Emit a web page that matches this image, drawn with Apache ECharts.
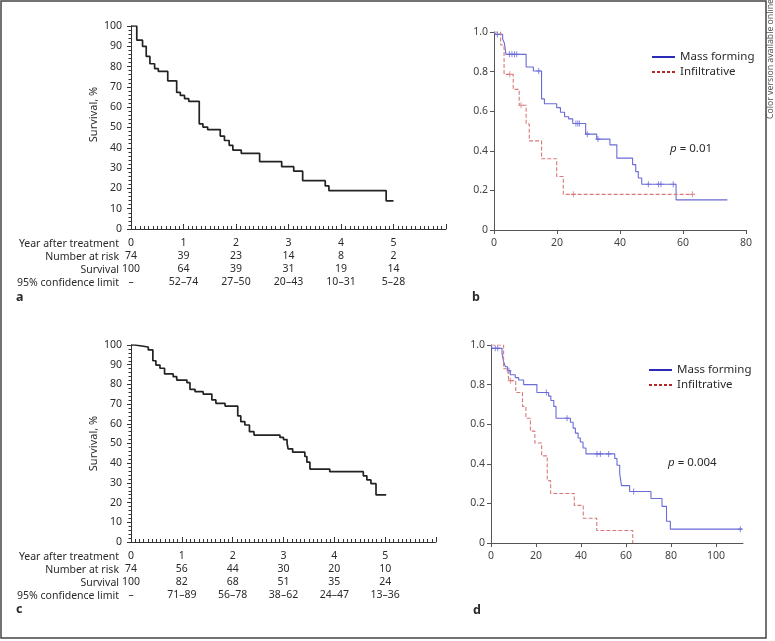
<!DOCTYPE html>
<html><head><meta charset="utf-8">
<script src="https://cdn.jsdelivr.net/npm/echarts@6/dist/echarts.min.js"></script>
<style>html,body{margin:0;padding:0;background:#fff}#c{width:775px;height:641px}</style>
</head><body><div id="c"></div>
<script>
// ---------- DATA ----------
// Panel a: overall survival (years, %), step changes
const kmA = [[0,100],[0.11,93],[0.22,90],[0.29,85],[0.36,81.4],[0.45,79],[0.52,77.6],[0.7,73],[0.87,67.3],[0.94,65.8],[1.02,64.2],[1.1,62.9],[1.3,51.8],[1.37,50.2],[1.46,49],[1.7,45.8],[1.78,43.6],[1.87,41.2],[1.94,38.9],[2.1,37.3],[2.45,33.2],[2.87,30.7],[3.1,28.5],[3.27,23.8],[3.7,21.2],[3.77,18.9],[4.86,13.9],[5.0,13.9]];
// Panel c: (years, %)
const kmC = [[0,100],[0.08,99],[0.34,97.5],[0.43,92],[0.49,89.8],[0.57,88.2],[0.66,85.3],[0.83,83.9],[0.9,82.2],[1.1,80.9],[1.16,77.5],[1.26,76.3],[1.42,75.1],[1.59,72.1],[1.67,70.4],[1.85,69],[2.1,64],[2.16,61.1],[2.24,59.4],[2.33,56],[2.42,54.3],[2.93,53.1],[3.0,52],[3.07,50.2],[3.09,47.3],[3.18,45.6],[3.42,43.4],[3.46,40.5],[3.52,37],[3.91,35.7],[4.57,33.6],[4.64,31.5],[4.72,29.6],[4.82,23.9],[5.02,23.9]];

// Risk tables
const yearLabels = ['0','1','2','3','4','5'];
const riskA = ['74','39','23','14','8','2'];
const survA = ['100','64','39','31','19','14'];
const ciA = ['–','52–74','27–50','20–43','10–31','5–28'];
const riskC = ['74','56','44','30','20','10'];
const survC = ['100','82','68','51','35','24'];
const ciC = ['–','71–89','56–78','38–62','24–47','13–36'];
const rowNames = ['Year after treatment','Number at risk','Survival','95% confidence limit'];

// Panel b (months, proportion)
const bMass = [[0,1],[0.4,0.988],[2.75,0.965],[3.3,0.944],[3.8,0.887],[10.2,0.823],[12.5,0.803],[15.1,0.662],[16.0,0.638],[19.9,0.618],[21.1,0.595],[22.4,0.572],[23.7,0.561],[25.0,0.538],[29.1,0.484],[32.6,0.459],[36.8,0.43],[39.0,0.363],[44.0,0.33],[45.0,0.295],[45.8,0.263],[46.9,0.231],[57.8,0.152],[74.1,0.152]];
const bMassCens = [[1.06,0.988],[4.9,0.887],[5.7,0.887],[6.5,0.887],[7.2,0.887],[14.2,0.803],[26.0,0.538],[26.6,0.538],[27.1,0.538],[29.6,0.484],[33.0,0.459],[49.0,0.231],[52.2,0.231],[53.0,0.231],[56.9,0.231]];
const bInf = [[0,1],[2.1,0.934],[3.2,0.786],[6.1,0.71],[8.0,0.63],[10.2,0.535],[11.2,0.45],[15.1,0.36],[19.9,0.27],[22.0,0.18],[63,0.18]];
const bInfCens = [[5.0,0.786],[8.6,0.63],[25.2,0.18],[63,0.18]];

// Panel d (months, proportion)
const dMass = [[0,1],[0.5,0.983],[4.9,0.958],[5.6,0.916],[6.4,0.89],[7.4,0.87],[8.6,0.85],[10.8,0.835],[12.3,0.823],[14.5,0.80],[20.4,0.76],[25.6,0.742],[26.6,0.72],[27.9,0.69],[28.9,0.63],[35.3,0.61],[36.5,0.58],[37.5,0.555],[38.7,0.53],[39.7,0.51],[40.9,0.48],[42.2,0.45],[55.0,0.427],[56.0,0.393],[57.2,0.35],[58.0,0.29],[61.6,0.26],[71.1,0.225],[76.0,0.185],[78.0,0.11],[79.7,0.07],[111.5,0.07]];
const dMassCens = [[1.9,0.983],[3.0,0.983],[8.0,0.87],[24.6,0.76],[33.8,0.63],[47.1,0.45],[48.6,0.45],[52.3,0.45],[63.4,0.26],[110.8,0.07]];
const dInf = [[0,1],[5.6,0.88],[7.6,0.85],[8.0,0.82],[11.0,0.76],[14.0,0.69],[15.5,0.63],[17.5,0.565],[19.5,0.505],[22.5,0.44],[25.0,0.315],[26.5,0.25],[37.0,0.19],[41.0,0.125],[47.0,0.063],[63.0,0]];
const dInfCens = [[8.6,0.82]];

const seriesNames = ['Mass forming','Infiltrative'];
const pB = '0.01', pD = '0.004';

// ---------- STYLE ----------
const FONT = 'Noto Sans';
const FS = 10.5;
const TXT = '#2a2a2a';
const BLUE_LINE = '#6a6ad8', RED_LINE = '#d97a7a';
const BLUE_LEG = '#2b2bb5', RED_LEG = '#b02828';
const PLUS = 'path://M-0.2,-1H0.2V-0.2H1V0.2H0.2V1H-0.2V0.2H-1V-0.2H-0.2Z';

const chart = echarts.init(document.getElementById('c'));

function survXAxis(grid, tableRows) {
  return {
    gridIndex: grid, type: 'value', min: 0, max: 6, interval: 1,
    axisLine: {lineStyle: {color: '#333', width: 1}},
    axisTick: {inside: true, length: 5, lineStyle: {color: '#333'}},
    minorTick: {show: true, splitNumber: 12, length: 3, lineStyle: {color: '#333'}},
    splitLine: {show: false},
    axisLabel: {
      margin: 8, fontFamily: FONT, fontSize: FS, color: TXT, lineHeight: 13, align: 'center',
      formatter: function (v) {
        const i = Math.round(v);
        if (i >= yearLabels.length) return '';
        return [yearLabels[i], tableRows[0][i], tableRows[1][i], tableRows[2][i]].join('\n');
      }
    }
  };
}
function survYAxis(grid, shift) {
  return {
    gridIndex: grid, type: 'value', min: 0, max: 100, interval: 10,
    name: 'Survival, %', nameLocation: 'middle', nameGap: 32,
    nameTextStyle: {fontFamily: FONT, fontSize: 11, color: TXT, padding: [0, 0, 0, shift]},
    axisLine: {show: true, lineStyle: {color: '#333', width: 1}},
    axisTick: {show: true, length: 4, lineStyle: {color: '#333'}},
    minorTick: {show: true, splitNumber: 5, length: 2.5, lineStyle: {color: '#333'}},
    splitLine: {show: false},
    axisLabel: {margin: 9, fontFamily: FONT, fontSize: FS, color: TXT}
  };
}
function monthXAxis(grid, max, ticks) {
  return {
    gridIndex: grid, type: 'value', min: 0, max: max, interval: 20,
    axisLine: {lineStyle: {color: '#555', width: 1}},
    axisTick: {length: 4, customValues: ticks, lineStyle: {color: '#555'}},
    axisLabel: {margin: 8, fontFamily: FONT, fontSize: FS, color: '#444', customValues: ticks},
    splitLine: {show: false}
  };
}
function propYAxis(grid) {
  return {
    gridIndex: grid, type: 'value', min: 0, max: 1, interval: 0.2,
    axisLine: {show: true, lineStyle: {color: '#555', width: 1}},
    axisTick: {show: true, length: 4, lineStyle: {color: '#555'}},
    splitLine: {show: false},
    axisLabel: {margin: 6, fontFamily: FONT, fontSize: FS, color: '#444',
      formatter: v => v === 0 ? '0' : v.toFixed(1)}
  };
}
function stepLine(name, xi, data, color, width, type) {
  return {type: 'line', name: name, xAxisIndex: xi, yAxisIndex: xi, data: data, step: 'end',
    symbol: 'none', silent: true, animation: false,
    itemStyle: {color: color},
    lineStyle: {color: color, width: width, type: type || 'solid'}};
}
function cens(xi, data, color) {
  return {type: 'scatter', name: 'cens' + xi + color, xAxisIndex: xi, yAxisIndex: xi, data: data,
    symbol: PLUS, symbolSize: [5, 6], silent: true, animation: false, itemStyle: {color: color}};
}
const HIDE = {color: 'rgba(0,0,0,0)', borderColor: 'rgba(0,0,0,0)', borderWidth: 0, opacity: 0};
function legendAt(left, top) {
  return {
    data: [
      {name: seriesNames[0], itemStyle: HIDE, lineStyle: {color: BLUE_LEG, width: 2, type: 'solid', opacity: 1}},
      {name: seriesNames[1], itemStyle: HIDE, lineStyle: {color: RED_LEG, width: 2, type: [3, 2], opacity: 1}}
    ],
    orient: 'vertical', left: left, top: top, itemWidth: 23, itemHeight: 10, itemGap: 3, padding: 0,
    selectedMode: false,
    textStyle: {fontFamily: FONT, fontSize: 11.5, color: TXT}
  };
}
function txt(x, y, s, opts) {
  return Object.assign({type: 'text', x: x, y: y, silent: true,
    style: Object.assign({text: s, fontFamily: FONT, fontSize: FS, fill: TXT, align: 'right', verticalAlign: 'middle'}, opts || {})});
}

const graphics = [
  {type: 'rect', shape: {x: 1, y: 1, width: 765, height: 637}, style: {fill: 'none', stroke: '#444', lineWidth: 1.5}, silent: true},
  {type: 'text', x: 771, y: 119, rotation: Math.PI / 2, silent: true,
    style: {text: 'Color version available online', fontFamily: FONT, fontSize: 8.7, fill: '#555', align: 'left', verticalAlign: 'middle'}},
  txt(16, 297, 'a', {fontWeight: 'bold', fontSize: 12.5, align: 'left'}),
  txt(472, 297, 'b', {fontWeight: 'bold', fontSize: 12.5, align: 'left'}),
  txt(16, 609, 'c', {fontWeight: 'bold', fontSize: 12.5, align: 'left'}),
  txt(473, 610, 'd', {fontWeight: 'bold', fontSize: 12.5, align: 'left'}),
  txt(670, 149, '{i|p} = ' + pB, {align: 'left', fontSize: 11.5, rich: {i: {fontStyle: 'italic', fontFamily: FONT, fontSize: 11.5, fill: TXT}}}),
  txt(668, 463, '{i|p} = ' + pD, {align: 'left', fontSize: 11.5, rich: {i: {fontStyle: 'italic', fontFamily: FONT, fontSize: 11.5, fill: TXT}}})
];
[244, 557].forEach(y0 => {
  rowNames.forEach((n, k) => graphics.push(txt(119, y0 + k * 13, n)));
});

chart.setOption({
  animation: false,
  backgroundColor: '#fff',
  textStyle: {fontFamily: FONT},
  grid: [
    {left: 131, top: 26, width: 315, height: 203},
    {left: 494, top: 32, width: 252, height: 198},
    {left: 131, top: 345, width: 305, height: 197},
    {left: 491, top: 345, width: 252, height: 198}
  ],
  xAxis: [
    survXAxis(0, [riskA, survA, ciA]),
    monthXAxis(1, 80, [0, 20, 40, 60, 80]),
    survXAxis(2, [riskC, survC, ciC]),
    monthXAxis(3, 112, [0, 20, 40, 60, 80, 100])
  ],
  yAxis: [survYAxis(0, 26), propYAxis(1), survYAxis(2, 0), propYAxis(3)],
  legend: [legendAt(651, 51), legendAt(648, 364)],
  series: [
    stepLine('KM a', 0, kmA, '#222', 1.7),
    stepLine(seriesNames[0], 1, bMass, BLUE_LINE, 1.1),
    stepLine(seriesNames[1], 1, bInf, RED_LINE, 1.1, [4, 2]),
    cens(1, bMassCens, BLUE_LINE),
    cens(1, bInfCens, RED_LINE),
    stepLine('KM c', 2, kmC, '#222', 1.7),
    stepLine(seriesNames[0], 3, dMass, BLUE_LINE, 1.1),
    stepLine(seriesNames[1], 3, dInf, RED_LINE, 1.1, [4, 2]),
    cens(3, dMassCens, BLUE_LINE),
    cens(3, dInfCens, RED_LINE)
  ],
  graphic: graphics
});
</script></body></html>
